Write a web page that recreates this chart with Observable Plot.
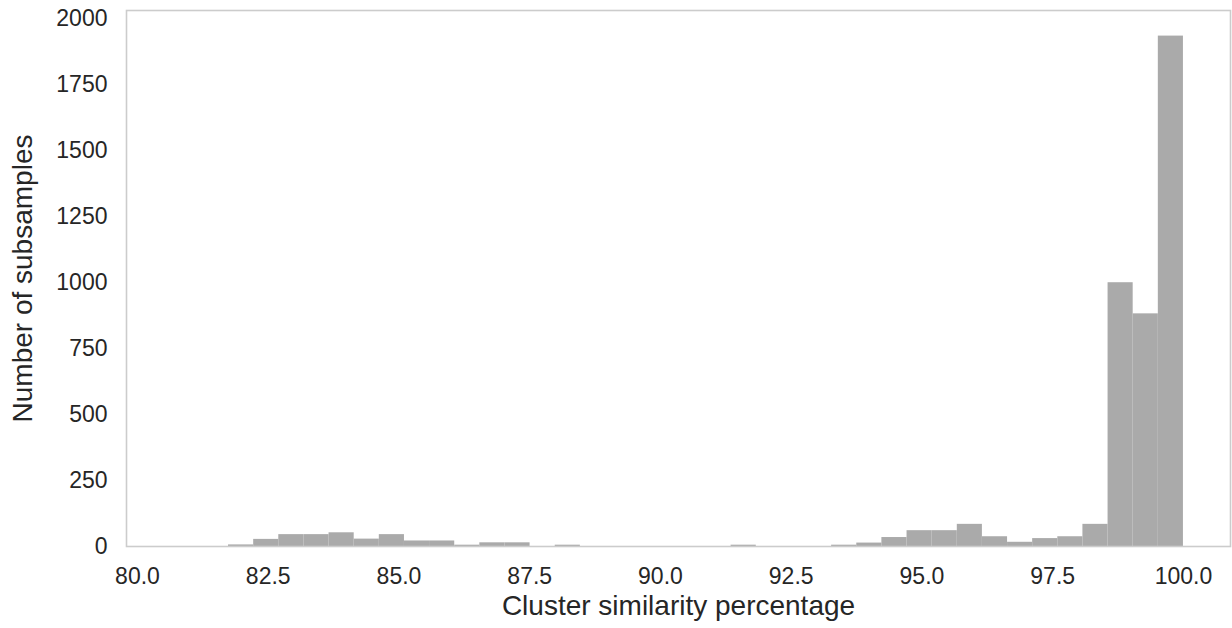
<!DOCTYPE html>
<html>
<head>
<meta charset="utf-8">
<script src="https://cdn.jsdelivr.net/npm/d3@7"></script>
<script src="https://cdn.jsdelivr.net/npm/@observablehq/plot@0.6"></script>
<style>
  body { margin: 0; background: #ffffff; }
  #chart svg { font-family: "Liberation Sans", Arial, sans-serif; background: #ffffff; }
</style>
</head>
<body>
<div id="chart"></div>
<script>
// Histogram bin edges (40 equal bins)
const binEdges = [80.780, 81.261, 81.741, 82.222, 82.702, 83.183, 83.663, 84.144, 84.624, 85.105,
                  85.585, 86.066, 86.546, 87.027, 87.507, 87.988, 88.468, 88.949, 89.429, 89.910,
                  90.390, 90.871, 91.351, 91.832, 92.312, 92.793, 93.273, 93.754, 94.234, 94.715,
                  95.195, 95.676, 96.156, 96.637, 97.117, 97.598, 98.078, 98.559, 99.039, 99.520,
                  100.000];
// Number of subsamples per bin
const counts = [0, 0, 6, 27, 45, 45, 52, 28, 45, 21,
                21, 5, 14, 14, 0, 5, 0, 0, 0, 0,
                0, 0, 5, 0, 0, 0, 5, 13, 34, 60,
                60, 84, 37, 16, 30, 37, 84, 1000, 882, 1935];
const xTicks = [80, 82.5, 85, 87.5, 90, 92.5, 95, 97.5, 100];
const yTicks = [0, 250, 500, 750, 1000, 1250, 1500, 1750, 2000];
const xLabel = "Cluster similarity percentage";
const yLabel = "Number of subsamples";

const bins = counts.map((c, i) => ({x1: binEdges[i], x2: binEdges[i + 1], count: c}));

const chart = Plot.plot({
  width: 1232,
  height: 628,
  marginTop: 10,
  marginBottom: 82,
  marginLeft: 126,
  marginRight: 2,
  style: {background: "#ffffff", color: "#262626"},
  x: {domain: [79.79, 100.90]},
  y: {domain: [0, 2032]},
  marks: [
    Plot.rectY(bins, {x1: "x1", x2: "x2", y: "count", fill: "#aaaaaa", inset: 0}),
    Plot.frame({stroke: "#cccccc", strokeWidth: 1.6}),
    Plot.axisX({ticks: xTicks, tickFormat: d => d.toFixed(1), tickSize: 0, tickPadding: 21,
                fontSize: 23, fill: "#262626", label: null}),
    Plot.axisY({ticks: yTicks, tickFormat: d => String(d), tickSize: 0, tickPadding: 19,
                fontSize: 23, fill: "#262626", label: null}),
    Plot.text([xLabel], {frameAnchor: "bottom", lineAnchor: "middle", dy: 60, fontSize: 28,
                         fill: "#262626", textAnchor: "middle", text: d => d}),
    Plot.text([yLabel], {frameAnchor: "left", lineAnchor: "middle", dx: -103, rotate: -90, fontSize: 28,
                         fill: "#262626", textAnchor: "middle", text: d => d})
  ]
});
document.getElementById("chart").appendChild(chart);
</script>
</body>
</html>
